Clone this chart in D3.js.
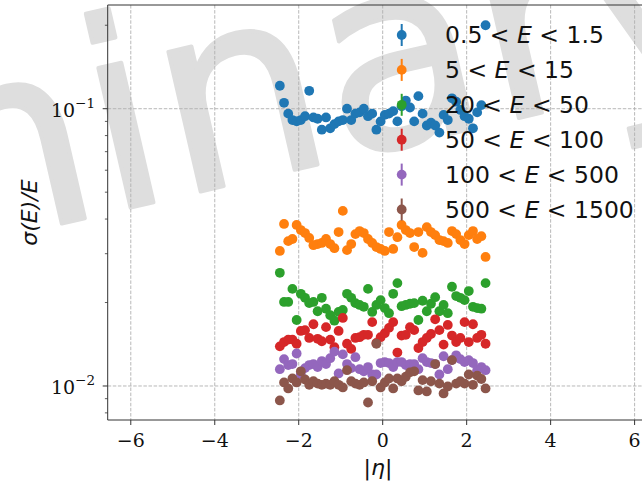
<!DOCTYPE html>
<html>
<head>
<meta charset="utf-8">
<script src="https://cdn.jsdelivr.net/npm/d3@7"></script>
<style>
  body { margin: 0; background: #fff; }
  svg { display: block; }
</style>
</head>
<body>
<div id="chart"></div>
<script>
/* global d3 */

// bin centres in eta
const ETA = [
  -2.45, -2.35, -2.25, -2.15, -2.05, -1.95, -1.85, -1.75, -1.65, -1.55,
  -1.45, -1.35, -1.25, -1.15, -1.05, -0.95, -0.85, -0.75, -0.65, -0.55,
  -0.45, -0.35, -0.25, -0.15, -0.05, 0.05, 0.15, 0.25, 0.35, 0.45,
  0.55, 0.65, 0.75, 0.85, 0.95, 1.05, 1.15, 1.25, 1.35, 1.45,
  1.55, 1.65, 1.75, 1.85, 1.95, 2.05, 2.15, 2.25, 2.35, 2.45
]

// sigma(E)/E per energy bin
const RES_0_5_1_5 = [
  0.121, 0.105, 0.096, 0.091, 0.090, 0.091, 0.094, 0.116, 0.093, 0.092,
  0.084, 0.093, 0.085, 0.088, 0.090, 0.091, 0.100, 0.091, 0.096, 0.097,
  0.100, 0.094, 0.096, 0.084, 0.090, 0.095, 0.096, 0.098, 0.090, 0.102,
  0.107, 0.101, 0.090, 0.111, 0.096, 0.087, 0.089, 0.087, 0.082, 0.095,
  0.091, 0.109, 0.106, 0.099, 0.094, 0.092, 0.085, 0.097, 0.103, 0.200
]
const RES_5_15 = [
  0.0307, 0.0384, 0.0333, 0.0339, 0.0381, 0.0365, 0.0356, 0.0342, 0.0322, 0.0325,
  0.0328, 0.0339, 0.0325, 0.0314, 0.0359, 0.0428, 0.0309, 0.0325, 0.0353, 0.0362,
  0.0356, 0.0339, 0.0328, 0.0317, 0.0312, 0.0307, 0.0359, 0.0312, 0.0344, 0.0381,
  0.0365, 0.0356, 0.0317, 0.0359, 0.0302, 0.0374, 0.0359, 0.0350, 0.0336, 0.0333,
  0.0328, 0.0362, 0.0353, 0.0336, 0.0325, 0.0350, 0.0362, 0.0339, 0.0347, 0.0292
]
const RES_20_50 = [
  0.0256, 0.0201, 0.0201, 0.0224, 0.0173, 0.0215, 0.0208, 0.0199, 0.0201, 0.0186,
  0.0208, 0.0190, 0.0180, 0.0172, 0.0185, 0.0188, 0.0215, 0.0208, 0.0199, 0.0196,
  0.0193, 0.0224, 0.0185, 0.0196, 0.0204, 0.0191, 0.0183, 0.0215, 0.0235, 0.0194,
  0.0196, 0.0198, 0.0199, 0.0173, 0.0203, 0.0186, 0.0198, 0.0209, 0.0186, 0.0196,
  0.0183, 0.0228, 0.0211, 0.0208, 0.0204, 0.0220, 0.0193, 0.0191, 0.0190, 0.0235
]
const RES_50_100 = [
  0.0139, 0.0144, 0.0147, 0.0147, 0.0142, 0.0158, 0.0159, 0.0149, 0.0167, 0.0148,
  0.0145, 0.0163, 0.0147, 0.0138, 0.0158, 0.0176, 0.0142, 0.0136, 0.0149, 0.0150,
  0.0153, 0.0153, 0.0170, 0.0143, 0.0150, 0.0155, 0.0162, 0.0170, 0.0132, 0.0152,
  0.0153, 0.0163, 0.0159, 0.0137, 0.0144, 0.0149, 0.0154, 0.0174, 0.0159, 0.0141,
  0.0166, 0.0152, 0.0144, 0.0149, 0.0170, 0.0144, 0.0167, 0.0149, 0.0153, 0.0142
]
const RES_100_500 = [
  0.0115, 0.0125, 0.0119, 0.0120, 0.0131, 0.0110, 0.0116, 0.0119, 0.0120, 0.0117,
  0.0123, 0.0120, 0.0126, 0.0133, 0.0111, 0.0130, 0.0120, 0.0116, 0.0127, 0.0115,
  0.0113, 0.0117, 0.0110, 0.0110, 0.0121, 0.0122, 0.0121, 0.0117, 0.0122, 0.0122,
  0.0119, 0.0120, 0.0120, 0.0115, 0.0126, 0.0122, 0.0121, 0.0120, 0.0110, 0.0128,
  0.0115, 0.0124, 0.0129, 0.0125, 0.0122, 0.0124, 0.0121, 0.0114, 0.0117, 0.0114
]
const RES_500_1500 = [
  0.00887, 0.0103, 0.00980, 0.01065, 0.0103, 0.0113, 0.01056, 0.0101, 0.0104, 0.0102,
  0.0101, 0.0102, 0.0101, 0.0104, 0.0101, 0.00988, 0.0114, 0.0104, 0.0102, 0.0101,
  0.0103, 0.00872, 0.0104, 0.0142, 0.00988, 0.0103, 0.01065, 0.00980, 0.01065, 0.0104,
  0.0108, 0.0112, 0.0113, 0.00964, 0.0105, 0.00956, 0.0104, 0.0120, 0.0102, 0.00940,
  0.00996, 0.0124, 0.0102, 0.0104, 0.0102, 0.0110, 0.0101, 0.0109, 0.0106, 0.00980
]

const BIN_LO = ['0.5', '5', '20', '50', '100', '500']
const BIN_HI = ['1.5', '15', '50', '100', '500', '1500']
const COLORS = ['#1f77b4', '#ff7f0e', '#2ca02c', '#d62728', '#9467bd', '#8c564b']

const X_TICKS = [-6, -4, -2, 0, 2, 4, 6]
const Y_MAJOR = [0.01, 0.1]
const Y_MAJOR_EXP = ['\u22122', '\u22121']
const Y_MINOR = [0.008, 0.009, 0.02, 0.03, 0.04, 0.05, 0.06, 0.07, 0.08, 0.09, 0.2]

const SERIES = [RES_0_5_1_5, RES_5_15, RES_20_50, RES_50_100, RES_100_500, RES_500_1500]

const W = 642
const H = 482
const AX = { left: 107.7, right: 657.7, top: 5, bottom: 420 }

const svg = d3.select('#chart').append('svg')
  .attr('width', W)
  .attr('height', H)
  .attr('viewBox', `0 0 ${W} ${H}`)

const x = d3.scaleLinear().domain([-6.55, 6.55]).range([AX.left, AX.right])
const y = d3.scaleLog().domain([0.00754, 0.2366]).range([AX.bottom, AX.top])

// watermark behind everything, anchored on the second "i"
const wm = svg.append('g')
  .attr('transform', 'translate(142,205) rotate(-13)')
  .append('text')
  .attr('y', 0)
  .style('font-family', 'DejaVu Sans, sans-serif')
  .style('font-size', '262px')
  .style('fill', '#dedede')
  .style('stroke', '#dedede')
  .style('stroke-width', 4)
  .style('stroke-linejoin', 'round')
  .text('Preliminary')
const wmNode = wm.node()
const iStart = wmNode.getSubStringLength(0, 6)
const iWidth = wmNode.getSubStringLength(6, 1)
wm.attr('x', -(iStart + iWidth / 2))

svg.append('clipPath').attr('id', 'plotclip')
  .append('rect')
  .attr('x', AX.left).attr('y', AX.top)
  .attr('width', AX.right - AX.left).attr('height', AX.bottom - AX.top)

// grid
const grid = svg.append('g')
  .attr('stroke', '#b0b0b0')
  .attr('stroke-width', 0.9)
  .attr('stroke-dasharray', '3.5,1.6')
grid.selectAll('line.gx').data(X_TICKS).join('line')
  .attr('x1', d => x(d)).attr('x2', d => x(d))
  .attr('y1', AX.top).attr('y2', AX.bottom)
grid.selectAll('line.gy').data(Y_MAJOR).join('line')
  .attr('x1', AX.left).attr('x2', AX.right)
  .attr('y1', d => y(d)).attr('y2', d => y(d))

// points
const plot = svg.append('g').attr('clip-path', 'url(#plotclip)')
SERIES.forEach((vals, k) => {
  plot.append('g')
    .selectAll('circle')
    .data(vals)
    .join('circle')
    .attr('cx', (d, i) => x(ETA[i]))
    .attr('cy', d => y(d))
    .attr('r', 4.9)
    .attr('fill', COLORS[k])
})

// spines
const spine = svg.append('g').attr('stroke', '#333').attr('stroke-width', 1).attr('fill', 'none')
spine.append('line').attr('x1', AX.left).attr('x2', AX.left).attr('y1', AX.top).attr('y2', AX.bottom)
spine.append('line').attr('x1', AX.left).attr('x2', AX.right).attr('y1', AX.bottom).attr('y2', AX.bottom)
spine.append('line').attr('x1', AX.left).attr('x2', AX.right).attr('y1', AX.top).attr('y2', AX.top)

// x ticks
const xt = svg.append('g')
xt.selectAll('line').data(X_TICKS).join('line')
  .attr('x1', d => x(d)).attr('x2', d => x(d))
  .attr('y1', AX.bottom).attr('y2', AX.bottom + 5)
  .attr('stroke', '#333').attr('stroke-width', 1)
xt.selectAll('text').data(X_TICKS).join('text')
  .attr('x', d => x(d))
  .attr('y', 447)
  .attr('text-anchor', 'middle')
  .style('font-family', '"DejaVu Serif", serif')
  .style('font-size', '19px')
  .style('fill', '#111')
  .text(d => (d < 0 ? '\u2212' + Math.abs(d) : String(d)))

// y ticks
const yt = svg.append('g')
yt.selectAll('line.maj').data(Y_MAJOR).join('line')
  .attr('x1', AX.left - 5).attr('x2', AX.left)
  .attr('y1', d => y(d)).attr('y2', d => y(d))
  .attr('stroke', '#333').attr('stroke-width', 1)
yt.selectAll('line.min').data(Y_MINOR).join('line')
  .attr('x1', AX.left - 2.8).attr('x2', AX.left)
  .attr('y1', d => y(d)).attr('y2', d => y(d))
  .attr('stroke', '#333').attr('stroke-width', 0.8)
const ylab = yt.selectAll('text').data(Y_MAJOR).join('text')
  .attr('x', 95)
  .attr('y', d => y(d) + 8)
  .attr('text-anchor', 'end')
  .style('font-family', '"DejaVu Serif", serif')
  .style('font-size', '19px')
  .style('fill', '#111')
ylab.append('tspan').text('10')
ylab.append('tspan')
  .attr('dy', -9)
  .style('font-size', '13.5px')
  .text((d, i) => Y_MAJOR_EXP[i])

// axis labels
svg.append('text')
  .attr('transform', `translate(37,${(AX.top + AX.bottom) / 2}) rotate(-90)`)
  .attr('text-anchor', 'middle')
  .style('font-family', 'DejaVu Sans, sans-serif')
  .style('font-style', 'italic')
  .style('font-size', '22px')
  .style('fill', '#111')
  .text('\u03c3(E)/E')

svg.append('text')
  .attr('x', 378)
  .attr('y', 475)
  .attr('text-anchor', 'middle')
  .style('font-family', 'DejaVu Sans, sans-serif')
  .style('font-size', '22px')
  .style('fill', '#111')
  .html('|<tspan font-style="italic">\u03b7</tspan>|')

// legend
const legend = svg.append('g')
BIN_LO.forEach((lo, k) => {
  const cy = 35 + k * 34.9
  const row = legend.append('g')
  row.append('line')
    .attr('x1', 401.7).attr('x2', 401.7)
    .attr('y1', cy - 11).attr('y2', cy + 11)
    .attr('stroke', COLORS[k]).attr('stroke-width', 2)
  row.append('circle')
    .attr('cx', 401.7).attr('cy', cy).attr('r', 4.9)
    .attr('fill', COLORS[k])
  const t = row.append('text')
    .attr('x', 445)
    .attr('y', cy + 8.3)
    .style('font-family', 'DejaVu Sans, sans-serif')
    .style('font-size', '23.5px')
    .style('fill', '#111')
    .style('white-space', 'pre')
  t.append('tspan').text(lo + ' < ')
  t.append('tspan').style('font-style', 'italic').text('E')
  t.append('tspan').text(' < ' + BIN_HI[k])
})
</script>
</body>
</html>
